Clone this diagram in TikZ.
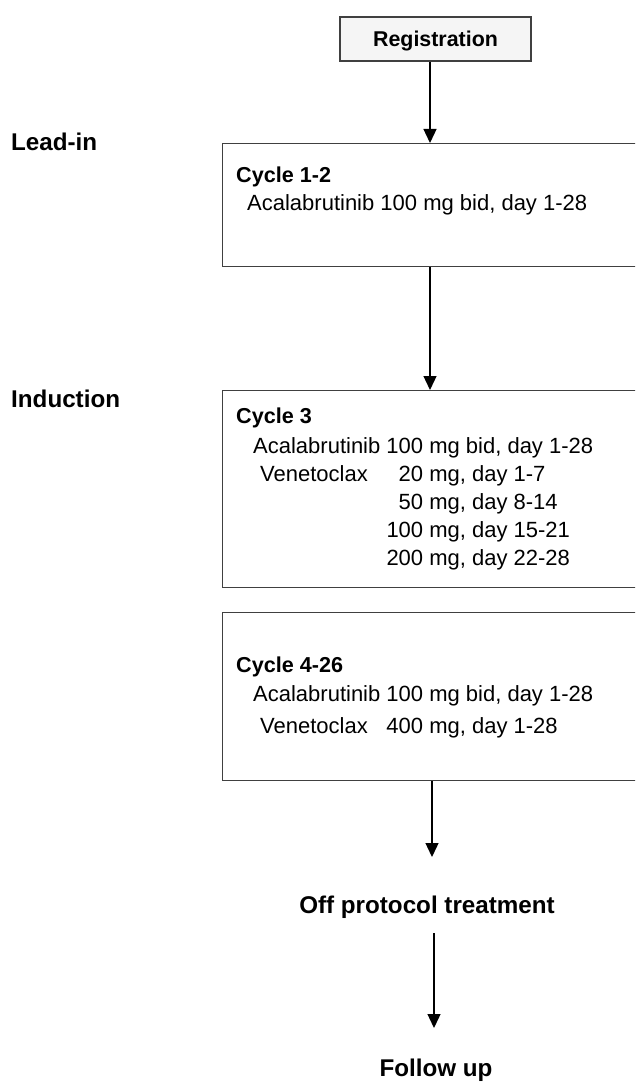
\documentclass[tikz,border=0pt]{standalone}
\usepackage{fontspec}
\setmainfont{Liberation Sans}
\usetikzlibrary{positioning,arrows.meta}

\begin{document}
\begin{tikzpicture}[
  x=1pt, y=-1pt,
  regbox/.style={
        draw=black!75,
        line width=1.4pt,
        fill=black!4,
        inner sep=0pt,
        text depth=0pt,
        font=\fontsize{21.4}{26}\selectfont\bfseries
  },
  cyclebox/.style={
        draw=black!75,
        line width=1.4pt,
        anchor=north west,
        minimum width=440pt,
        inner sep=0pt
  },
  phase/.style={anchor=base west, inner sep=0pt, font=\fontsize{24.2}{29}\selectfont\bfseries},
  head/.style={anchor=base west, inner sep=0pt, font=\fontsize{21.6}{26}\selectfont\bfseries},
  dose/.style={anchor=base west, inner sep=0pt, font=\fontsize{22}{28}\selectfont},
  flow/.style={-{Triangle[width=13pt,length=14pt]}, line width=1.3pt}
]

    \useasboundingbox (0,0) rectangle (635,1083);
    \clip (0,0) rectangle (635,1083);

    \coordinate (col) at (430,0);

    % phases
    \node[phase] (leadin) at (11,151) {Lead-in};
    \node[phase] (induct) at (11,407) {Induction};

    \node[regbox, minimum width=191pt, minimum height=44pt] (reg) at (435.5,39) {Registration};

    % cycle 1-2
    \node[cyclebox, minimum height=123pt] (cyc12) at (222,143) {};
    \node[head] (cyc12_title) at (236,183) {Cycle 1-2};
    \node[dose] (cyc12_drug) at (247,211) {Acalabrutinib 100 mg bid, day 1-28};

    % cycle 3
    \node[cyclebox, minimum height=197pt] (cyc3) at (222,390) {};
    \node[head] (cyc3_title) at (236,423) {Cycle 3};
    \node[dose] (cyc3_drug) at (253,453) {%
      \begin{tabular}[t]{@{}l@{\ }r@{\ }l@{}}
        Acalabrutinib & 100 & mg bid, day 1-28\\
        \hspace{7pt}Venetoclax & 20 & mg, day 1-7\\
         & 50 & mg, day 8-14\\
         & 100 & mg, day 15-21\\
         & 200 & mg, day 22-28
      \end{tabular}};

    % cycle 4-26
    \node[cyclebox, minimum height=168pt] (cyc426) at (222,612) {};
    \node[head] (cyc426_title) at (236,672) {Cycle 4-26};
    \node[dose] (cyc426_drug) at (253,701) {%
      \begin{tabular}[t]{@{}l@{\ }r@{\ }l@{}}
        Acalabrutinib & 100 & mg bid, day 1-28\\[4pt]
        \hspace{7pt}Venetoclax & 400 & mg, day 1-28
      \end{tabular}};

    \node[phase, anchor=base] (offprot) at (427,913) {Off protocol treatment};
    \node[phase, anchor=base] (follow) at (436,1076) {Follow up};

    \coordinate (off_in) at (432,857);
    \coordinate (fu_in) at (434,1028);

    \draw[flow] (reg.south -| col) -- (cyc12.north -| col);
    \draw[flow] (cyc12.south -| col) -- (cyc3.north -| col);
    \draw[flow] (cyc426.south -| off_in) -- (off_in);
    \draw[flow, shorten <=15pt] (offprot.south -| fu_in) -- (fu_in);
\end{tikzpicture}
\end{document}
